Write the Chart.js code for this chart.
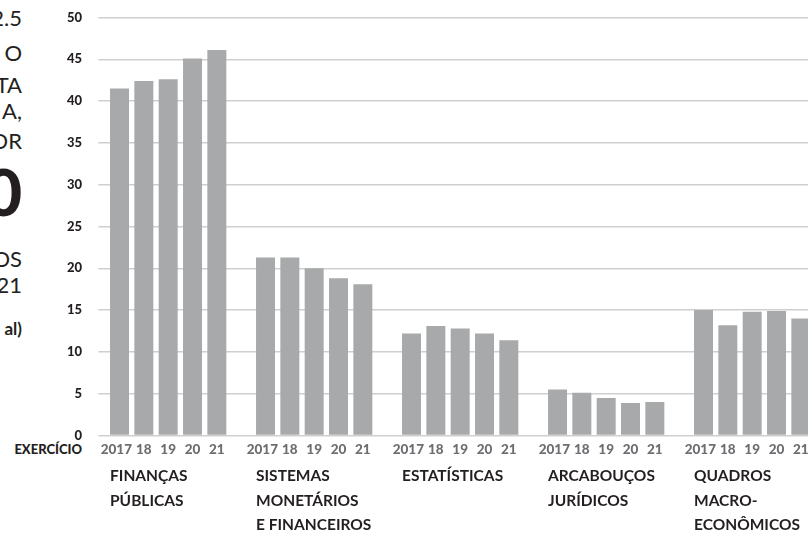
<!DOCTYPE html>
<html>
<head>
<meta charset="utf-8">
<script src="https://cdn.jsdelivr.net/npm/chart.js@4.4.1/dist/chart.umd.min.js"></script>
<style>
  html,body{margin:0;padding:0;width:808px;height:533px;overflow:hidden;background:#fff;}
  #wrap{position:relative;width:808px;height:533px;overflow:hidden;}
  #myChart{position:absolute;left:0;top:0;}
  .txt{position:absolute;left:-300px;width:322px;text-align:right;color:#231f20;font-family:Lato,"Open Sans",sans-serif;line-height:1;white-space:nowrap;}
  .fino{font-size:22px;font-weight:400;}
  .grande{font-size:64px;font-weight:900;}
  .nota{font-size:17px;font-weight:700;}
  #exercicio{position:absolute;left:-100px;width:182px;top:442px;text-align:right;font:900 13px Lato,sans-serif;color:#231f20;line-height:14px;}
</style>
</head>
<body>
<div id="wrap">
  <div class="txt fino" style="top:7px">2.5</div>
  <div class="txt fino" style="top:41.5px">O</div>
  <div class="txt fino" style="top:73.5px">TA</div>
  <div class="txt fino" style="top:99.5px">A,</div>
  <div class="txt fino" style="top:130px">OR</div>
  <div class="txt grande" style="top:160px">0</div>
  <div class="txt fino" style="top:247.5px">OS</div>
  <div class="txt fino" style="top:273.5px">21</div>
  <div class="txt nota" style="top:320px">al)</div>
  <div id="exercicio">EXERCÍCIO</div>
  <canvas id="myChart" width="840" height="546"></canvas>
</div>
<script>
// dados (valores por exercicio)
const anos = ['2017  ','18','19','20','21']
const grupos = [
  ['FINANÇAS','PÚBLICAS'],
  ['SISTEMAS','MONETÁRIOS','E FINANCEIROS'],
  ['ESTATÍSTICAS'],
  ['ARCABOUÇOS','JURÍDICOS'],
  ['QUADROS','MACRO-','ECONÔMICOS']
]
const financasPublicas    = [41.5, 42.4, 42.6, 45.1, 46.1]
const sistemasMonetarios  = [21.3, 21.3, 20.0, 18.8, 18.1]
const estatisticas        = [12.2, 13.1, 12.8, 12.2, 11.4]
const arcaboucosJuridicos = [5.5, 5.1, 4.5, 3.9, 4.0]
const quadrosMacro        = [15.0, 13.2, 14.8, 14.9, 14.0]
const yMax  = 50
const yPaso = 5

const series = [financasPublicas, sistemasMonetarios, estatisticas, arcaboucosJuridicos, quadrosMacro]

// etiquetas planas: 5 anos + un hueco por grupo
let etiquetas = []
let valores = []
series.forEach(s => {
  s.forEach((v, j) => { etiquetas.push(anos[j]); valores.push(v) })
  etiquetas.push(''); valores.push(null)
})

const ctx = document.getElementById('myChart')
const fuente = 'Lato, "Open Sans", sans-serif'

// quitar el relleno automatico de las etiquetas para fijar el area
const sinRelleno = (scale) => {
  scale.paddingTop = 0; scale.paddingBottom = 0
  scale.paddingLeft = 0; scale.paddingRight = 0
}

const myChart = new Chart(ctx, {
  type: 'bar',
  data: {
    labels: etiquetas,
    datasets: [{
      data: valores,
      backgroundColor: '#a7a9aa',
      borderWidth: 0,
      barPercentage: 0.78,
      categoryPercentage: 1
    }]
  },
  options: {
    responsive: false,
    animation: false,
    layout: {padding: {top: 17.5, right: 2.65, bottom: 0, left: 0}},
    plugins: {legend: {display: false}, tooltip: {enabled: false}},
    scales: {
      x: {
        type: 'category',
        offset: true,
        grid: {display: false, drawTicks: false},
        border: {display: false},
        ticks: {
          autoSkip: false, maxRotation: 0, minRotation: 0, padding: 6,
          color: '#6d6e71',
          font: {family: fuente, size: 13.5, weight: 900, lineHeight: 1.2}
        },
        afterFit: (scale) => { scale.height = 20; sinRelleno(scale) }
      },
      xg: {
        type: 'linear',
        position: 'bottom',
        weight: 1,
        offset: false,
        min: -0.5,
        max: etiquetas.length - 0.5,
        bounds: 'data',
        grid: {display: false, drawTicks: false},
        border: {display: false},
        afterBuildTicks: (scale) => {
          scale.ticks = grupos.map((g, k) => ({value: k * (anos.length + 1) - 0.39}))
        },
        ticks: {
          autoSkip: false, maxRotation: 0, minRotation: 0, padding: 8.25,
          align: 'start',
          color: '#231f20',
          font: {family: fuente, size: 15.5, weight: 'bold', lineHeight: 24.5/15.5},
          callback: (value, i) => grupos[i]
        },
        afterFit: (scale) => { scale.height = 90.5; sinRelleno(scale) }
      },
      y: {
        min: 0,
        max: yMax,
        grid: {color: '#cfcfcf', lineWidth: 1.5, drawTicks: true, tickLength: 9},
        border: {display: false},
        ticks: {
          stepSize: yPaso, padding: 16.35,
          color: '#231f20',
          font: {family: fuente, size: 13, weight: 900}
        },
        afterFit: (scale) => { scale.width = 107.35; sinRelleno(scale) }
      }
    }
  }
})
</script>
</body>
</html>
